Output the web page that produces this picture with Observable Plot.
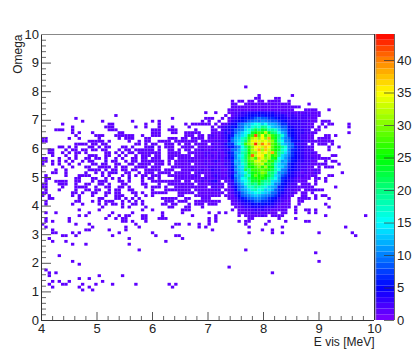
<!DOCTYPE html>
<html><head><meta charset="utf-8">
<script src="https://cdn.jsdelivr.net/npm/d3@7"></script>
<script src="https://cdn.jsdelivr.net/npm/@observablehq/plot@0.6"></script>
<style>html,body{margin:0;padding:0;background:#fff}#w{position:relative;width:415px;height:356px}#w svg{position:absolute;left:0;top:0;background:transparent}</style>
</head><body><div id="w"></div>
<script>
const alphabet = "0123456789abcdefghijklmnopqrstuvwxyzABCDEFGHI";
const denseStart = 44;
const denseRows = [72,71,70,69,68,67,66,65,64,63,62,61,60,59,58,57,56,55,54,53,52,51,50,49,48,47,46,45,44,43,42,41,40,39,38,37,36];
const denseCounts = [
".....1..1. ..11223344 4544443322 2212121111 ..........",
".......... .1.1233455 6565554443 2322222111 ..........",
".....111.. 1.12345667 8988776544 333222111. ..........",
"....1.1..1 ..13456789 a9ba988765 333322211. 111.......",
".111111.1. 1134589bce fgdfccb977 43332211.. 1.11....1.",
"1......1.1 2346589dcg igkjfdcb88 54332221.1 .1......1.",
"..1....11. 234689aegj mknmijhda9 6543322.11 ..........",
"1111...111 24368bdfgn prqwolkfca 654332211. ........1.",
"11.11.1211 2356bcegnr Gszrvrnkgb 75432211.. .11.1.....",
".1111.1111 2358cdhjrv xuzuCrojda 86432211.1 111.......",
"111.111122 2259cehlty Ayxzwunifa 9654322111 1111......",
"1.1111.211 2477cfirux HxEzCtqlec a84322.1.1 11.1......",
"11.1111122 23568aflqu zAxBztpnjg a8643221.. ..1..1....",
"1.11211221 23389cgjqv yCvBxspmhf a7643221.. ..1.......",
"1111122112 1357bcikpu uAxzvCrkie a75432221. ..........",
"1.11121212 1247aeglrF wzAtwqskec 9754322111 ...11.....",
"1111111112 1346adhlsv rByuvnpfeb 8654322211 111.......",
"2111121232 1237cchkrt xyuwqrkhbc 865332211. .1.11.....",
"1.11121121 1336bcgjpr uvxqsmhecb 7543222111 11...1....",
"1111112222 12369dekop suqvpoheda 75432211.1 .111......",
"1211211322 1135acemkr rstrqmifa9 6543221121 ..........",
"1.12111222 12348ceglo qrutllhba8 6432121121 ......1...",
"1121.11232 1135abdjho tpspmkec87 543221111. ..11......",
"1111121122 12258bfgln oqqnkifb76 4321111.11 .1........",
"1.11212341 .1238befin mpljkedb75 432111..1. .1........",
"11.1111222 1.2379cgil jnkhiea965 322.111.1. ..........",
"111111.221 1.1358adhh kihgdcb664 32211111.. ....1.....",
"1.11111122 .11258bceh ifhdec8763 2211.11121 1.........",
"11.1111111 1.12469bde fgedc98643 221.11.1.. ..........",
"..11111111 .1113589ac dcba987532 21..11..1. 11........",
"1...111... ..11246789 aa98765322 1..1111.1. ..1.......",
"..11111111 ...1234567 8877654321 1..11..... ..........",
"1.111.111. ...1123445 6565543211 1..1...... .1........",
"1...1..... ....112334 4443332111 1.1....... ..1.......",
"1......... ...1.11222 3232211111 ..1..11.1. ..........",
"......1..1 .1...11112 2212111.11 ..1...1.1. ..........",
".1......1. .....1.111 1121.1111. .......... .........."
];
const sparseRows = [81,78,77,76,75,74,73,71,70,69,68,67,66,65,64,63,62,61,60,59,58,57,56,55,54,53,52,51,50,49,48,47,46,45,44,43,42,41,40,39,38,37,36,35,34,33,32,31,30,29,28,27,26,24,23,22,20,19,18,17,16,15,14,13,12,11,10];
const sparseColumns = [
[61],[65,75],[64,65,70,71],[57,59,60,62,63,65,66,68,69,70,71,74],[57,58,61,62,63,64,65,66,67,68,69,70,71,72,73,74,80],[57,58,59,60,61,62,63,64,65,66,67,68,69,70,71,72,73,74,75,76,77],[56,57,58,59,60,61,62,63,64,65,66,67,68,69,70,71,72,73,74,75,79,80,81,82,86],[22],[10,39],
[12,18,27,33,35],[6,20,21,31,35,43],[9,19,20,21,28,31,35,39],[4,5,6,9,20,21,22,33,34,35,38,39,40],[9,11,15,23,24,33,34,35,39,40,43],[10,16,17,18,22,23,24,25,26,27,30,33,34,35,43],
[0,1,8,11,17,23,25,26,27,31,32,38,39,40,42,43],[0,1,14,15,16,17,18,20,26,29,31,32,35,36,37,38,40,41,42,43],[10,11,12,13,15,16,18,19,28,29,31,33,34,37,38,39,41,43],
[5,6,8,10,14,15,17,19,20,24,25,27,31,32,33,33,35,37,38,39,42,43],[2,3,7,9,10,12,13,15,16,18,19,23,25,26,28,29,30,31,32,33,35,38,39,41,43],
[2,3,6,8,10,11,13,19,20,22,24,26,27,29,30,31,32,33,34,35,38,39,40,41],[3,7,10,14,15,16,19,20,23,25,28,30,31,32,34,35,38,39,40,41,42,43],
[0,1,5,8,10,13,14,16,17,19,22,24,27,28,30,31,33,34,35,38,39,41,42,43],[0,1,3,5,7,9,12,14,15,19,19,21,22,25,27,28,30,31,32,33,34,35,36,38,40,41,42,43],
[0,3,5,8,11,15,16,18,19,22,23,26,27,29,30,31,32,34,35,36,38,40,41,42,43],[6,9,13,14,17,18,19,20,22,24,25,28,29,30,31,33,34,35,39,40,41,42,43],
[4,7,14,15,16,17,19,21,22,24,25,27,28,31,32,33,34,35,37,38,39,42,43],[3,4,7,13,16,18,20,21,22,22,25,26,29,31,32,33,35,36,37,38,40,41,42,43],
[1,7,11,12,13,14,18,20,24,26,28,30,31,33,34,35,38,39,40,41,42,43],[1,2,10,11,15,16,19,21,23,26,26,30,32,33,35,40,41,42,43],
[1,4,5,6,7,10,11,15,17,18,19,23,24,26,30,33,34,35,36,37,38,39,40,41,43],[0,1,5,6,7,10,13,14,17,18,20,24,25,30,31,35,38,39,40,41,42,43],
[0,1,6,10,11,12,13,16,19,20,23,24,26,31,33,34,35,37,40,41,42,43],[1,5,10,13,14,16,17,20,22,23,26,27,33,37,38,39,40,41,42,43],
[0,1,9,10,12,15,16,19,20,22,23,27,28,30,33,34,35,36,37,41,42,43],[0,2,9,11,15,19,22,23,24,28,31,33,41,42],
[2,3,11,17,18,22,23,25,27,29,36,37,38,39,40,43],[1,10,11,15,17,19,20,21,24,26,28,30,37,38,39,41,42,43],
[1,9,12,17,19,21,22,24,27,28,30,36,37,39,40],[18,24,26,31,38,39,43],[11,17,30,33,42,43],[1,4,14,21,27,36,42],[11,13,20,23,25,26,30,31,36,85,97],
[1,8,19,22,24,25,30,31,35,36,37,50,52,62,63,71,76],[1,3,8,24,25,27,31,50,52,59,61,62,68,73,79,80],[0,10,14,28,40,41,44,47,50,61,67],[1,15,25,29,39,47,49,62,72,91],[3,13,14,20,25,51,66,69],[3,4,9,11,23,33,62,69,72,83,93],[6,7,10,21,34,40,41,94],[2,26,42],[3,7,37],[9,13,26],[29,61],[82],[5],[9,83],[11],[56],[1],[2,4,69],[2,17,24],[11,14],[3,5,8,18],[2,6,7,12,16,21,28,38,40],[3,11,14,39],[12,15]
];
const paletteStops = ["#8000ff","#0000ff","#0080ff","#00ffff","#00ff80","#00ff00","#80ff00","#ffff00","#ff8000","#ff0000"];
const zStops = [0,5,10,15,20,25,30,35,40,44];
const xMajor = [4,5,6,7,8,9,10], yMajor = [0,1,2,3,4,5,6,7,8,9,10];
const zTicks = [0,5,10,15,20,25,30,35,40];
const counts = new Map();
const bump = (c,r,n) => { const k = c+":"+r; counts.set(k,(counts.get(k)||0)+n); };
denseRows.forEach((r,i) => [...denseCounts[i].replace(/ /g,"")].forEach((ch,j) => { if (ch!==".") bump(denseStart+j,r,alphabet.indexOf(ch)); }));
sparseRows.forEach((r,i) => sparseColumns[i].forEach(c => bump(c,r,1)));
const cells = [...counts].map(([k,v]) => { const [c,r]=k.split(":").map(Number); return {x1:4+c*.06,x2:4+(c+1)*.06,y1:r*.1,y2:(r+1)*.1,v}; });
const nColors = 50;
const ramp = d3.scaleLinear().domain(zStops).range(paletteStops).interpolate(d3.interpolateRgb);
const palette = d3.range(nColors).map(i => ramp((i+.5)*44/nColors));
const thresholds = d3.range(1,nColors).map(i => i*44/nColors);
const colorScale = {type:"threshold",domain:thresholds,range:palette};
const minor = (ms,step) => ms.slice(0,-1).flatMap(m => d3.range(1,5).map(i => m+i*step));
const font = "Liberation Sans, Arial, sans-serif";
const frameStroke = "#333";
const main = Plot.plot({width:415,height:356,marginLeft:41,marginRight:41,marginTop:34,marginBottom:36,
  style:{fontFamily:font,background:"transparent"},
  x:{domain:[4,10],axis:null},y:{domain:[0,10],axis:null},color:colorScale,
  marks:[
    Plot.rect(cells,{x1:"x1",x2:"x2",y1:"y1",y2:"y2",fill:"v"}),
    Plot.ruleX(xMajor,{y1:0,y2:.28,stroke:"#555"}),
    Plot.ruleX(minor(xMajor,.2),{y1:0,y2:.14,stroke:"#666"}),
    Plot.ruleY(yMajor,{x1:4,x2:4.18,stroke:"#555"}),
    Plot.ruleY(minor(yMajor,.2),{x1:4,x2:4.09,stroke:"#666"}),
    Plot.ruleX([4,10],{stroke:frameStroke}),
    Plot.ruleY([0],{stroke:frameStroke}),
    Plot.ruleY([10],{stroke:"#888"}),
    Plot.text(xMajor,{x:d=>d,y:0,dy:8,fontSize:13,fill:"#222",text:d=>String(d)}),
    Plot.text(yMajor,{x:4,y:d=>d,dx:-2.5,fontSize:13,fill:"#222",textAnchor:"end",text:d=>String(d)}),
    Plot.text(["E vis [MeV]"],{x:10,y:0,dy:21.5,fontSize:12,fill:"#222",textAnchor:"end"}),
    Plot.text(["Omega"],{x:4,y:10,dx:-23,fontSize:12,fill:"#222",rotate:-90,textAnchor:"end"})
  ]});
const zLevels = d3.range(nColors).map(i => ({z1:i*44/nColors,z2:(i+1)*44/nColors}));
const bar = Plot.plot({width:415,height:356,marginLeft:375.5,marginRight:21,marginTop:34,marginBottom:36,
  style:{fontFamily:font,background:"transparent"},
  x:{domain:[0,1],axis:null},y:{domain:[0,44],axis:null},color:colorScale,
  marks:[
    Plot.rect(zLevels,{x1:0,x2:1,y1:"z1",y2:"z2",fill:d=>(d.z1+d.z2)/2}),
    Plot.ruleX([1],{stroke:"#666"}),
    Plot.ruleX([0],{stroke:"#888",strokeOpacity:.5}),
    Plot.ruleY(zTicks,{x1:.46,x2:1,stroke:"#333",strokeOpacity:.7}),
    Plot.text(zTicks,{x:1,y:d=>d,dx:2.5,fontSize:13,fill:"#222",textAnchor:"start",text:d=>String(d)})
  ]});
const w = document.getElementById("w"); w.append(main,bar);
</script></body></html>
